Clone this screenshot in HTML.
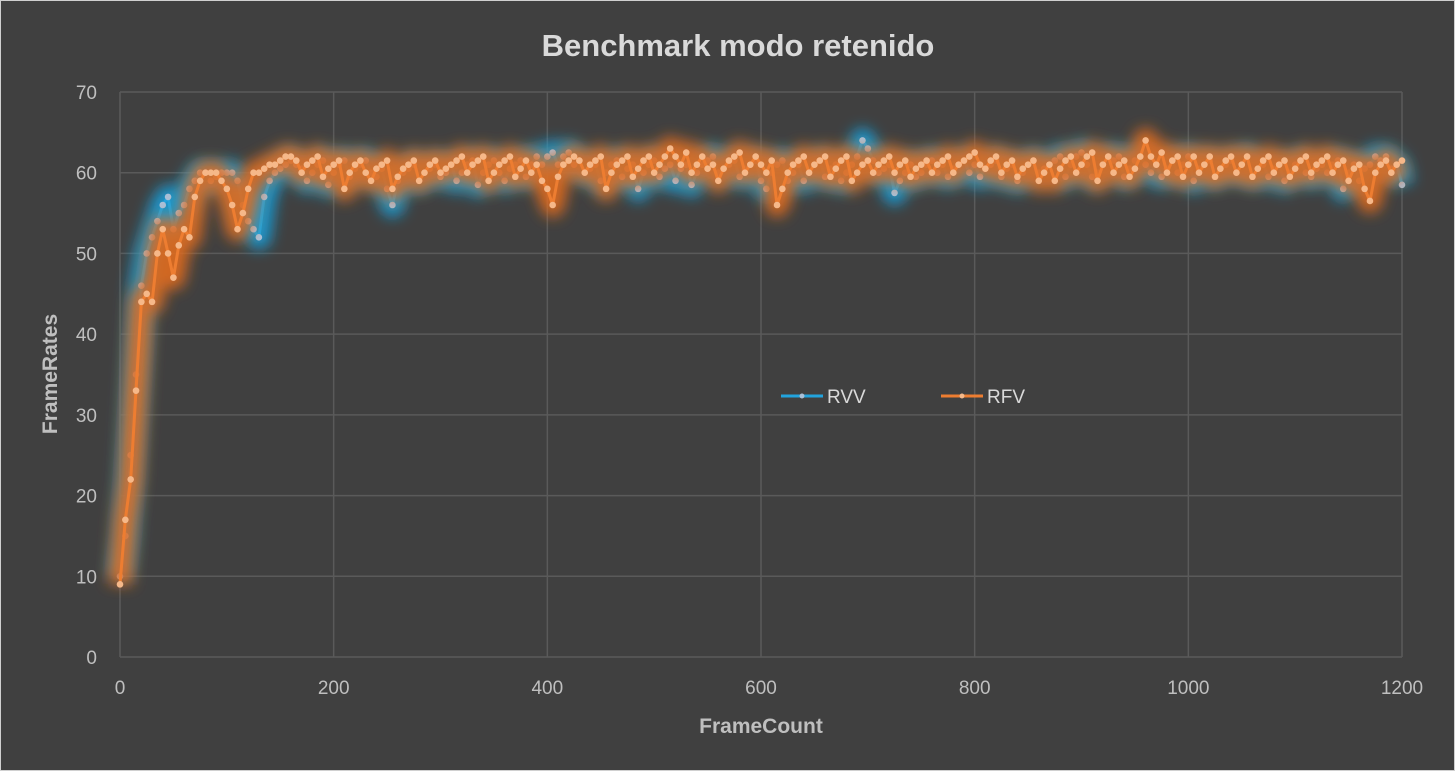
<!DOCTYPE html>
<html><head><meta charset="utf-8">
<style>
html,body{margin:0;padding:0;background:#404040;}
#wrap{position:relative;width:1455px;height:771px;background:#404040;box-sizing:border-box;border:1px solid #d0d0d0;overflow:hidden;}
text{font-family:"Liberation Sans Narrow","Liberation Sans",sans-serif;}
</style></head>
<body>
<div id="wrap">
<svg id="chart" width="1455" height="771">
<defs>
<filter id="glow" x="-5%" y="-30%" width="110%" height="160%"><feGaussianBlur stdDeviation="7"/></filter>
</defs>
<text x="737" y="55" text-anchor="middle" font-size="31" font-weight="bold" fill="#d9d9d9">Benchmark modo retenido</text>
<g id="grid"></g>
<g id="ticks"></g>
<g id="series"></g>
<text x="760" y="732" text-anchor="middle" font-size="21" font-weight="bold" fill="#bfbfbf">FrameCount</text>
<text transform="translate(56,373) rotate(-90)" text-anchor="middle" font-size="21" font-weight="bold" fill="#bfbfbf">FrameRates</text>
<g>
<g>
<line x1="780" y1="395" x2="822" y2="395" stroke="#22a3dd" stroke-width="3"/>
<circle cx="801" cy="395" r="2.5" fill="#a9c0d8"/>
<text x="826" y="402" font-size="19" fill="#d9d9d9">RVV</text>
</g>
<g>
<line x1="940" y1="395" x2="982" y2="395" stroke="#ed7d31" stroke-width="3"/>
<circle cx="961" cy="395" r="2.5" fill="#f6b889"/>
<text x="986" y="402" font-size="19" fill="#d9d9d9">RFV</text>
</g>
</g>
</svg>
</div>
<script>
const frameStep = 5;
const yTicks = [0,10,20,30,40,50,60,70];
const xTicks = [0,200,400,600,800,1000,1200];
const rvv = [10,15,25,35,46,50,52,54,56,57,53,55,56,58,59,60,60,59,59.5,60,60,60,59,56,54,53,52,57,59,60,60.5,61,61.5,
61,60.5,59,60,61,61.5,58.5,60,61,61.5,
59.5,60.5,61,61.5,60,59.5,60.5,58,56,59,
60,60.5,61,59,60,60.5,61,59.5,60,61,
59,60,61,61.5,58.5,60,61,61.5,60,59,
60.5,61,61.5,59.5,61,62,61,62,62.5,61,
62,62.5,61,61.5,60,60.5,61,59,60,61,
61.5,59.5,60.5,61,58,60,61,61.5,59.5,60.5,
61,59,60.5,61,58.5,60,61,61.5,62,60,
60.5,61,61.5,59.5,60.5,61,61.5,59,58,60,
61,61.5,59,60,61,59,60,61,61.5,59.5,
60.5,61,59,60,61,62,64,63,61.5,60,
60.5,61,57.5,59,60,61,59.5,60,61,61.5,
60,61,59.5,60.5,61,61.5,60,61,59.5,60.5,
61,61.5,59.5,60.5,61,59,60,61,61.5,60,
60.5,61,61.5,62,59.5,61,62,62.5,61,59.5,
60,61,62,61.5,62,59.5,60.5,61.5,62,61,
60,61,59.5,60.5,61.5,60,61,62,59,60.5,
61,61.5,59.5,60.5,61,61.5,60,61,62,59.5,
60.5,61,59.5,60.5,61,59,60,61,61.5,60,
59.5,60.5,61,60,61,61.5,58,60,61,59,
60.5,61,62,61.5,62,60.5,61,58.5];
const rfv = [9,17,22,33,44,45,44,50,53,50,47,51,53,52,57,59,60,60,60,59,58,56,53,55,58,60,60,60.5,61,61,61.5,62,62,
61.5,60,61,61.5,62,59.5,60.5,61,61.5,58,
60,61,61.5,60,59,60.5,61,61.5,58,59.5,
60.5,61,61.5,59,60,61,61.5,60,60.5,61,
61.5,62,60,61,61.5,62,59,60,61,61.5,
62,59.5,60.5,61.5,60,61,59,58,56,59.5,
61,61.5,62,61.5,60,61,61.5,62,58,60,
61,61.5,62,59.5,60.5,61.5,62,60,61,62,
63,62,61,62.5,60,61,62,60.5,61,59,
60.5,61.5,62,62.5,60,61,62,61,60,61.5,
56,58,60,61,61.5,62,60,61,61.5,62,
59.5,60.5,61.5,62,59,60,61,61.5,60,61,
61.5,62,60,61,61.5,59.5,60.5,61,61.5,60,
61,61.5,62,60,61,61.5,62,62.5,61,60.5,
61.5,62,60,61,61.5,59.5,60.5,61,61.5,59,
60,61,59,60.5,61.5,62,60,61,62,62.5,
59,61,62,60,61,61.5,59.5,60.5,62,64,
62,61,62.5,60,61.5,62,59.5,61,62,60,
61,62,59.5,60.5,61.5,62,60,61,62,59.5,
60.5,61.5,62,60,61,61.5,59.5,60.5,61.5,62,
60,61,61.5,62,60,61,61.5,59,60.5,61,
58,56.5,60,61,61.5,60,61,61.5];

const X0=119, X1=1401, Y0=656, Y1=91;
const xS = v => X0 + (v/1200)*(X1-X0);
const yS = v => Y0 - (v/70)*(Y0-Y1);
const NS="http://www.w3.org/2000/svg";
function mk(tag, attrs, parent){const e=document.createElementNS(NS,tag);for(const k in attrs)e.setAttribute(k,attrs[k]);parent.appendChild(e);return e;}
const grid=document.getElementById('grid'), ticks=document.getElementById('ticks'), series=document.getElementById('series');
yTicks.forEach(t=>{
  const l=mk('line',{x1:X0,x2:X1,y1:yS(t),y2:yS(t),stroke:'#5a5a5a','stroke-width':1.5},grid);
  
  
  const tx=mk('text',{x:96,y:yS(t)+7,'text-anchor':'end','font-size':19,fill:'#bfbfbf'},ticks);
  tx.textContent=t;
  
  
});
xTicks.forEach(t=>{
  const l=mk('line',{x1:xS(t),x2:xS(t),y1:Y1,y2:Y0,stroke:'#5a5a5a','stroke-width':1.5},grid);
  
  
  const tx=mk('text',{x:xS(t),y:693,'text-anchor':'middle','font-size':19,fill:'#bfbfbf'},ticks);
  tx.textContent=t;
  
  
});
function drawSeries(vals,name,glowCol,lineCol,markCol){
  const pts=vals.map((v,i)=>xS(i*frameStep).toFixed(1)+','+yS(v).toFixed(1)).join(' ');
  const g=mk('g',{},series);
  
  
  mk('polyline',{points:pts,fill:'none',stroke:glowCol,'stroke-width':24,'stroke-linejoin':'round','stroke-opacity':0.9,filter:'url(#glow)'},g);
  const ln=mk('polyline',{points:pts,fill:'none',stroke:lineCol,'stroke-width':3,'stroke-linejoin':'round'},g);
  
  
  vals.forEach((v,i)=>{
    const c=mk('circle',{cx:xS(i*frameStep),cy:yS(v),r:3.3,fill:markCol},g);
    
    
  });
}
drawSeries(rvv,'rvv','#1a9fd9','#22a3dd','#a9c0d8');
drawSeries(rfv,'rfv','#e06c1c','#ed7d31','#f6b889');
</script>
</body></html>
